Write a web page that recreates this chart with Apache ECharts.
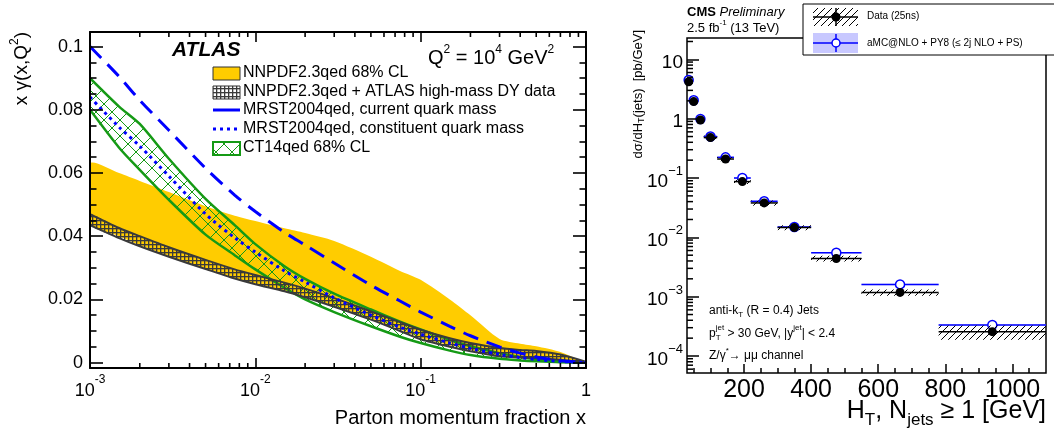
<!DOCTYPE html>
<html>
<head>
<meta charset="utf-8">
<title>photon PDF / HT spectrum</title>
<script src="https://cdn.jsdelivr.net/npm/echarts@6.0.0/dist/echarts.min.js"></script>
<style>
  html, body { margin: 0; padding: 0; background: #fff; }
  #chart { width: 1054px; height: 435px; }
</style>
</head>
<body>
<div id="chart"></div>
<script>
// ---------- left panel: x*gamma(x,Q2) at Q2 = 1e4 GeV2 ----------
var xPts = [0.001, 0.0015, 0.002, 0.003, 0.005, 0.0075, 0.01, 0.015, 0.02, 0.03, 0.05, 0.075, 0.1, 0.15, 0.2, 0.3, 0.4, 0.5, 0.7, 1];
var nnpdfHi = [0.0630, 0.0600, 0.0575, 0.0540, 0.0495, 0.0465, 0.0448, 0.0425, 0.0410, 0.0385, 0.0335, 0.0290, 0.0262, 0.0200, 0.0150, 0.0075, 0.0060, 0.0052, 0.0034, 0];
var nnpdfLo = [0.0440, 0.0400, 0.0372, 0.0338, 0.0298, 0.0268, 0.0250, 0.0228, 0.0210, 0.0180, 0.0138, 0.0105, 0.0078, 0.0055, 0.0040, 0.0022, 0.0017, 0.0015, 0.0010, 0];
var dyHi = [0.0470, 0.0426, 0.0400, 0.0365, 0.0325, 0.0295, 0.0277, 0.0253, 0.0234, 0.0204, 0.0162, 0.0128, 0.0104, 0.0077, 0.0062, 0.0046, 0.0040, 0.0037, 0.0026, 0.0003];
var dyLo = [0.0435, 0.0394, 0.0368, 0.0335, 0.0296, 0.0266, 0.0248, 0.0226, 0.0207, 0.0177, 0.0136, 0.0100, 0.0074, 0.0050, 0.0036, 0.0020, 0.0016, 0.0014, 0.0009, 0];
var ct14Hi = [0.0900, 0.0810, 0.0755, 0.0645, 0.0518, 0.0435, 0.0375, 0.0305, 0.0265, 0.0218, 0.0168, 0.0130, 0.0105, 0.0072, 0.0052, 0.0030, 0.0018, 0.0011, 0.0004, 0];
var ct14Lo = [0.0800, 0.0680, 0.0610, 0.0515, 0.0405, 0.0340, 0.0295, 0.0237, 0.0200, 0.0160, 0.0115, 0.0082, 0.0062, 0.0038, 0.0024, 0.0012, 0.0007, 0.0004, 0.0001, 0];
var mrstConst = [0.0840, 0.0745, 0.0685, 0.0590, 0.0470, 0.0395, 0.0350, 0.0290, 0.0255, 0.0205, 0.0150, 0.0112, 0.0090, 0.0062, 0.0045, 0.0026, 0.0016, 0.0010, 0.0004, 0];
var mrstCurrent = [0.1000, 0.0905, 0.0830, 0.0735, 0.0615, 0.0530, 0.0478, 0.0412, 0.0372, 0.0315, 0.0245, 0.0195, 0.0160, 0.0115, 0.0085, 0.0050, 0.0030, 0.0018, 0.0006, 0];
var yTicksL = [0, 0.02, 0.04, 0.06, 0.08, 0.1];
var yMinL = -0.0017, yMaxL = 0.1046;

// ---------- right panel: dsigma/dHT, Z -> mumu + jets ----------
var htLo = [30, 40, 60, 80, 120, 170, 220, 300, 400, 550, 780];
var htHi = [40, 60, 80, 120, 170, 220, 300, 400, 550, 780, 1100];
var dataVal = [4.2, 1.94, 0.95, 0.48, 0.209, 0.087, 0.038, 0.0146, 0.0044, 0.00118, 0.000257];
var dataUnc = [0.08, 0.08, 0.08, 0.08, 0.08, 0.09, 0.10, 0.10, 0.11, 0.12, 0.27];
var mcVal = [4.5, 2.04, 0.99, 0.50, 0.223, 0.100, 0.0405, 0.0149, 0.0055, 0.00161, 0.000333];
var mcUnc = [0.03, 0.03, 0.03, 0.03, 0.03, 0.03, 0.03, 0.03, 0.03, 0.03, 0.03];
var htTicks = [200, 400, 600, 800, 1000];
var yMinR = 5.17e-5, yMaxR = 22.9;

var FONT = '"Liberation Sans", Arial, Helvetica, sans-serif';

// tick positions
var xMinorL = [];
for (var e = -3; e < 0; e++) for (var k = 2; k <= 9; k++) xMinorL.push(+(k * Math.pow(10, e)).toPrecision(3));
var yMinorL = [];
for (var v = 0.005; v < 0.104; v += 0.005) if (Math.abs(v / 0.02 - Math.round(v / 0.02)) > 0.01) yMinorL.push(+v.toFixed(3));
var htMinor = [];
for (var h = 50; h <= 1050; h += 50) if (h % 200 !== 0) htMinor.push(h);
var yMinorR = [];
for (var e2 = -5; e2 <= 1; e2++) for (var k2 = 2; k2 <= 9; k2++) {
  var m = k2 * Math.pow(10, e2);
  if (m > yMinR && m < yMaxR) yMinorR.push(m);
}

function pattern(size, draw) {
  var c = document.createElement('canvas');
  c.width = size; c.height = size;
  draw(c.getContext('2d'), size);
  return { image: c, repeat: 'repeat' };
}
var gridHatch = pattern(4, function (ctx, s) {
  ctx.fillStyle = '#3a3a3a';
  ctx.fillRect(0, 0, s, 1.3);
  ctx.fillRect(0, 0, 1.3, s);
});
var greenHatch = pattern(16, function (ctx, s) {
  ctx.strokeStyle = '#159a15'; ctx.lineWidth = 1;
  ctx.beginPath();
  ctx.moveTo(0, s); ctx.lineTo(s, 0);
  ctx.moveTo(0, 0); ctx.lineTo(s, s);
  ctx.stroke();
});
var blackHatch = pattern(7, function (ctx, s) {
  ctx.strokeStyle = '#000'; ctx.lineWidth = 1;
  ctx.beginPath();
  ctx.moveTo(0, s); ctx.lineTo(s, 0);
  ctx.moveTo(-1, 1); ctx.lineTo(1, -1);
  ctx.moveTo(s - 1, s + 1); ctx.lineTo(s + 1, s - 1);
  ctx.stroke();
});

// text with sub/superscripts laid out piece by piece
var meas = document.createElement('canvas').getContext('2d');
function textRow(x, y, parts, align, rotation) {
  var items = [], pos = 0;
  parts.forEach(function (p) {
    var font = (p.font || '') + ' ' + p.size + 'px ' + FONT;
    meas.font = font;
    var w = meas.measureText(p.t).width;
    items.push({ p: p, font: font, x: pos });
    if (!p.keep) pos += w;
  });
  var shift = align === 'right' ? -pos : 0;
  return {
    type: 'group', x: x, y: y, rotation: rotation || 0, z: 100,
    children: items.map(function (it) {
      return {
        type: 'text', x: it.x + shift, y: it.p.dy || 0, z: 100,
        style: { text: it.p.t, font: it.font, fill: it.p.color || '#000', verticalAlign: 'middle' }
      };
    })
  };
}

function band(hi, lo, fill, edge, edgeWidth) {
  return {
    type: 'custom', xAxisIndex: 0, yAxisIndex: 0, clip: true, silent: true,
    data: [[xPts[0], hi[0]]],
    renderItem: function (params, api) {
      var top = xPts.map(function (x, i) { return api.coord([x, hi[i]]); });
      var bot = xPts.map(function (x, i) { return api.coord([x, lo[i]]); });
      var kids = [{ type: 'polygon', shape: { points: top.concat(bot.slice().reverse()), smooth: 0.25 }, style: { fill: fill } }];
      if (edge) {
        kids.push({ type: 'polyline', shape: { points: top, smooth: 0.25 }, style: { stroke: edge, lineWidth: edgeWidth, fill: null } });
        kids.push({ type: 'polyline', shape: { points: bot, smooth: 0.25 }, style: { stroke: edge, lineWidth: edgeWidth, fill: null } });
      }
      return { type: 'group', children: kids };
    }
  };
}

// decade labels, with the exponent as a superscript
function powLabel(minus) {
  return function (v) {
    var l = Math.log10(v), p = Math.round(l);
    if (Math.abs(l - p) > 0.01) return '';
    if (p === 0) return '{b|1}';
    if (p === 1) return '{b|10}';
    return '{b|10}{s|' + minus + Math.abs(p) + '}';
  };
}

var axLine = { color: '#000', width: 2 };
var tickL = { color: '#000', width: 1.6 };

var chart = echarts.init(document.getElementById('chart'));
var option = {
  animation: false,
  backgroundColor: '#fff',
  textStyle: { fontFamily: FONT },
  grid: [
    { left: 90, top: 32, width: 496, height: 336, show: false, outerBoundsMode: 'none' },
    { left: 687, top: 38, width: 359, height: 335, show: true, borderColor: '#000', borderWidth: 1.5, backgroundColor: 'transparent', outerBoundsMode: 'none' }
  ],
  xAxis: [
    { type: 'log', gridIndex: 0, position: 'bottom', min: 0.001, max: 1, z: 10,
      axisLine: { show: true, onZero: false, lineStyle: axLine },
      axisTick: { inside: true, length: 10, lineStyle: tickL },
      axisLabel: { margin: 6, color: '#000', showMinLabel: true, showMaxLabel: true, formatter: powLabel('-'),
        rich: { b: { fontSize: 18, fontFamily: FONT, color: '#000', verticalAlign: 'bottom', lineHeight: 26 },
                s: { fontSize: 12, fontFamily: FONT, color: '#000', verticalAlign: 'top', lineHeight: 14 } } },
      splitLine: { show: false } },
    { type: 'log', gridIndex: 0, position: 'top', min: 0.001, max: 1, z: 10,
      axisLine: { show: true, onZero: false, lineStyle: axLine },
      axisTick: { inside: true, length: 10, lineStyle: tickL },
      axisLabel: { show: false }, splitLine: { show: false } },
    { type: 'value', gridIndex: 1, position: 'bottom', min: 30, max: 1100, z: 10,
      axisLine: { show: false, onZero: false },
      axisTick: { inside: true, length: 9, customValues: htTicks, lineStyle: { color: '#000', width: 1.5 } },
      axisLabel: { customValues: htTicks, margin: 5, fontSize: 25, color: '#000', fontFamily: FONT,
        formatter: function (v) { return String(v); } },
      splitLine: { show: false } },
    { type: 'value', gridIndex: 1, position: 'bottom', min: 30, max: 1100, z: 10,
      axisLine: { show: false, onZero: false },
      axisTick: { inside: true, length: 5, customValues: htMinor, lineStyle: { color: '#000', width: 1.5 } },
      axisLabel: { show: false }, splitLine: { show: false } }
  ],
  yAxis: [
    { type: 'value', gridIndex: 0, position: 'left', min: yMinL, max: yMaxL, z: 10,
      axisLine: { show: true, onZero: false, lineStyle: axLine },
      axisTick: { inside: true, length: 13, customValues: yTicksL, lineStyle: tickL },
      axisLabel: { customValues: yTicksL, margin: 7, fontSize: 18, color: '#000', fontFamily: FONT,
        formatter: function (v) { return v === 0 ? '0' : String(+v.toFixed(2)); } },
      splitLine: { show: false } },
    { type: 'value', gridIndex: 0, position: 'left', min: yMinL, max: yMaxL, z: 10,
      axisLine: { show: false, onZero: false },
      axisTick: { inside: true, length: 6.5, customValues: yMinorL, lineStyle: tickL },
      axisLabel: { show: false }, splitLine: { show: false } },
    { type: 'value', gridIndex: 0, position: 'right', min: yMinL, max: yMaxL, z: 10,
      axisLine: { show: true, onZero: false, lineStyle: axLine },
      axisTick: { inside: true, length: 13, customValues: yTicksL, lineStyle: tickL },
      axisLabel: { show: false }, splitLine: { show: false } },
    { type: 'value', gridIndex: 0, position: 'right', min: yMinL, max: yMaxL, z: 10,
      axisLine: { show: false, onZero: false },
      axisTick: { inside: true, length: 6.5, customValues: yMinorL, lineStyle: tickL },
      axisLabel: { show: false }, splitLine: { show: false } },
    { type: 'log', gridIndex: 1, position: 'left', min: yMinR, max: yMaxR, z: 10,
      axisLine: { show: false, onZero: false },
      axisTick: { inside: true, length: 12, lineStyle: { color: '#000', width: 1.5 } },
      axisLabel: { margin: 4, color: '#000', showMinLabel: false, showMaxLabel: false, formatter: powLabel('\u2212'),
        rich: { b: { fontSize: 19, fontFamily: FONT, color: '#000', verticalAlign: 'bottom', lineHeight: 26 },
                s: { fontSize: 13, fontFamily: FONT, color: '#000', verticalAlign: 'top', lineHeight: 14 } } },
      splitLine: { show: false } }
  ],
  series: [
    band(nnpdfHi, nnpdfLo, '#ffcc00', null, 0),
    band(ct14Hi, ct14Lo, greenHatch, '#159a15', 2.5),
    band(dyHi, dyLo, gridHatch, '#3a3a3a', 2),
    { type: 'line', xAxisIndex: 0, yAxisIndex: 0, smooth: 0.3, symbol: 'none', silent: true, z: 5,
      data: xPts.map(function (x, i) { return [x, mrstConst[i]]; }),
      lineStyle: { color: '#0000ff', width: 3, type: [3, 4] } },
    { type: 'line', xAxisIndex: 0, yAxisIndex: 0, smooth: 0.3, symbol: 'none', silent: true, z: 5,
      data: xPts.map(function (x, i) { return [x, mrstCurrent[i]]; }),
      lineStyle: { color: '#0000ff', width: 3, type: [16, 9] } },
    // minor ticks of the log x axis, bottom and top
    { type: 'custom', xAxisIndex: 0, yAxisIndex: 0, clip: false, silent: true, z: 11,
      data: [[0.01, 0]],
      renderItem: function (params, api) {
        var kids = [];
        xMinorL.forEach(function (x) {
          var b = api.coord([x, yMinL]), t = api.coord([x, yMaxL]);
          kids.push({ type: 'line', shape: { x1: b[0], y1: b[1], x2: b[0], y2: b[1] - 5 }, style: { stroke: '#000', lineWidth: 1.6 } });
          kids.push({ type: 'line', shape: { x1: t[0], y1: t[1], x2: t[0], y2: t[1] + 5 }, style: { stroke: '#000', lineWidth: 1.6 } });
        });
        return { type: 'group', children: kids };
      } },
    // MC band and line
    { type: 'custom', xAxisIndex: 2, yAxisIndex: 4, clip: true, silent: true, z: 3,
      data: htLo.map(function (lo, i) { return [lo, htHi[i], mcVal[i], i]; }),
      encode: { x: [0, 1], y: 2 },
      renderItem: function (params, api) {
        var i = api.value(3);
        var a = api.coord([htLo[i], mcVal[i] * (1 + mcUnc[i])]);
        var b = api.coord([htHi[i], mcVal[i] * (1 - mcUnc[i])]);
        var c = api.coord([htLo[i], mcVal[i]]), d = api.coord([htHi[i], mcVal[i]]);
        return { type: 'group', children: [
          { type: 'rect', shape: { x: a[0], y: a[1], width: b[0] - a[0], height: b[1] - a[1] }, style: { fill: '#c8c8ff' } },
          { type: 'line', shape: { x1: c[0], y1: c[1], x2: d[0], y2: d[1] }, style: { stroke: '#0000ff', lineWidth: 1.5 } }
        ] };
      } },
    { type: 'scatter', xAxisIndex: 2, yAxisIndex: 4, symbol: 'circle', symbolSize: 9, z: 4, silent: true,
      data: htLo.map(function (lo, i) { return [(lo + htHi[i]) / 2, mcVal[i]]; }),
      itemStyle: { color: '#fff', borderColor: '#0000ff', borderWidth: 1.5, opacity: 1 } },
    // data systematic band (hatched) and bin line
    { type: 'custom', xAxisIndex: 2, yAxisIndex: 4, clip: true, silent: true, z: 5,
      data: htLo.map(function (lo, i) { return [lo, htHi[i], dataVal[i], i]; }),
      encode: { x: [0, 1], y: 2 },
      renderItem: function (params, api) {
        var i = api.value(3);
        var a = api.coord([htLo[i], dataVal[i] * (1 + dataUnc[i])]);
        var b = api.coord([htHi[i], dataVal[i] * (1 - dataUnc[i])]);
        var c = api.coord([htLo[i], dataVal[i]]), d = api.coord([htHi[i], dataVal[i]]);
        return { type: 'group', children: [
          { type: 'rect', shape: { x: a[0], y: a[1], width: b[0] - a[0], height: b[1] - a[1] }, style: { fill: blackHatch } },
          { type: 'line', shape: { x1: c[0], y1: c[1], x2: d[0], y2: d[1] }, style: { stroke: '#000', lineWidth: 1.5 } }
        ] };
      } },
    { type: 'scatter', xAxisIndex: 2, yAxisIndex: 4, symbol: 'circle', symbolSize: 9, z: 6, silent: true,
      data: htLo.map(function (lo, i) { return [(lo + htHi[i]) / 2, dataVal[i]]; }),
      itemStyle: { color: '#000', opacity: 1 } },
    // minor ticks of the log y axis
    { type: 'custom', xAxisIndex: 2, yAxisIndex: 4, clip: false, silent: true, z: 11,
      data: [[100, 1]],
      renderItem: function (params, api) {
        return { type: 'group', children: yMinorR.map(function (y) {
          var p = api.coord([30, y]);
          return { type: 'line', shape: { x1: p[0], y1: p[1], x2: p[0] + 6, y2: p[1] }, style: { stroke: '#000', lineWidth: 1.5 } };
        }) };
      } }
  ],
  graphic: { elements: [
    // left panel texts
    textRow(22, 32, [{ t: 'x \u03b3(x,Q', size: 19 }, { t: '2', size: 12, dy: -7 }, { t: ')', size: 19 }], 'right', Math.PI / 2),
    textRow(586, 418, [{ t: 'Parton momentum fraction x', size: 20 }], 'right'),
    textRow(172, 50, [{ t: 'ATLAS', size: 21, font: 'italic bold' }]),
    textRow(428, 58, [{ t: 'Q', size: 20 }, { t: '2', size: 12, dy: -8 }, { t: ' = 10', size: 20 }, { t: '4', size: 12, dy: -8 },
      { t: ' GeV', size: 20 }, { t: '2', size: 12, dy: -8 }]),
    { type: 'rect', z: 100, shape: { x: 213, y: 67, width: 27, height: 13 }, style: { fill: '#ffcc00', stroke: '#333', lineWidth: 1 } },
    { type: 'rect', z: 100, shape: { x: 213, y: 86, width: 27, height: 13 }, style: { fill: gridHatch, stroke: '#333', lineWidth: 1 } },
    { type: 'line', z: 100, shape: { x1: 213, y1: 110, x2: 240, y2: 110 }, style: { stroke: '#0000ff', lineWidth: 3 } },
    { type: 'line', z: 100, shape: { x1: 213, y1: 129, x2: 240, y2: 129 }, style: { stroke: '#0000ff', lineWidth: 3, lineDash: [3, 4] } },
    { type: 'rect', z: 100, shape: { x: 213, y: 142, width: 27, height: 13 }, style: { fill: greenHatch, stroke: '#159a15', lineWidth: 2 } },
    textRow(243, 73, [{ t: 'NNPDF2.3qed 68% CL', size: 16 }]),
    textRow(243, 92, [{ t: 'NNPDF2.3qed + ATLAS high-mass DY data', size: 16 }]),
    textRow(243, 110, [{ t: 'MRST2004qed, current quark mass', size: 16 }]),
    textRow(243, 129, [{ t: 'MRST2004qed, constituent quark mass', size: 16 }]),
    textRow(243, 148, [{ t: 'CT14qed 68% CL', size: 16 }]),
    // right panel texts
    textRow(687, 12, [{ t: 'CMS', size: 13, font: 'bold' }, { t: ' Preliminary', size: 13, font: 'italic' }]),
    textRow(687, 28, [{ t: '2.5 fb', size: 13 }, { t: '-1', size: 8, dy: -5 }, { t: ' (13 TeV)', size: 13 }]),
    textRow(638, 30, [{ t: 'd\u03c3/dH', size: 13 }, { t: 'T', size: 9, dy: 4 }, { t: '(jets)  [pb/GeV]', size: 13 }], 'right', Math.PI / 2),
    textRow(1046, 411, [{ t: 'H', size: 25 }, { t: 'T', size: 17, dy: 9 }, { t: ', N', size: 25 }, { t: 'jets', size: 17, dy: 9 },
      { t: ' \u2265 1 [GeV]', size: 25 }], 'right'),
    textRow(709, 311, [{ t: 'anti-k', size: 12 }, { t: 'T', size: 8, dy: 4 }, { t: ' (R = 0.4) Jets', size: 12 }]),
    textRow(709, 334, [{ t: 'p', size: 12 }, { t: 'T', size: 8, dy: 4, keep: true }, { t: 'jet', size: 8, dy: -6 },
      { t: ' > 30 GeV, |y', size: 12 }, { t: 'jet', size: 8, dy: -6 }, { t: '| < 2.4', size: 12 }]),
    textRow(709, 356, [{ t: 'Z/\u03b3', size: 12 }, { t: '*', size: 8, dy: -5 }, { t: '\u2192 \u03bc\u03bc channel', size: 12 }]),
    // right legend
    { type: 'rect', z: 100, shape: { x: 803, y: 4, width: 262, height: 51 }, style: { fill: '#fff', stroke: '#000', lineWidth: 1 } },
    { type: 'rect', z: 101, shape: { x: 813, y: 8, width: 45, height: 18 }, style: { fill: blackHatch } },
    { type: 'line', z: 101, shape: { x1: 813, y1: 17, x2: 858, y2: 17 }, style: { stroke: '#000', lineWidth: 1.5 } },
    { type: 'line', z: 101, shape: { x1: 836, y1: 8, x2: 836, y2: 26 }, style: { stroke: '#000', lineWidth: 1.5 } },
    { type: 'circle', z: 102, shape: { cx: 836, cy: 17, r: 4.5 }, style: { fill: '#000' } },
    { type: 'rect', z: 101, shape: { x: 813, y: 33, width: 45, height: 20 }, style: { fill: '#c8c8ff' } },
    { type: 'line', z: 101, shape: { x1: 813, y1: 43, x2: 858, y2: 43 }, style: { stroke: '#0000ff', lineWidth: 1.5 } },
    { type: 'line', z: 101, shape: { x1: 836, y1: 34, x2: 836, y2: 52 }, style: { stroke: '#0000ff', lineWidth: 1.5 } },
    { type: 'circle', z: 102, shape: { cx: 836, cy: 43, r: 4 }, style: { fill: '#fff', stroke: '#0000ff', lineWidth: 1.5 } },
    textRow(867, 16, [{ t: 'Data (25ns)', size: 10 }]),
    textRow(867, 43, [{ t: 'aMC@NLO + PY8 (\u2264 2j NLO + PS)', size: 10 }])
  ] }
};
chart.setOption(option);
</script>
</body>
</html>
